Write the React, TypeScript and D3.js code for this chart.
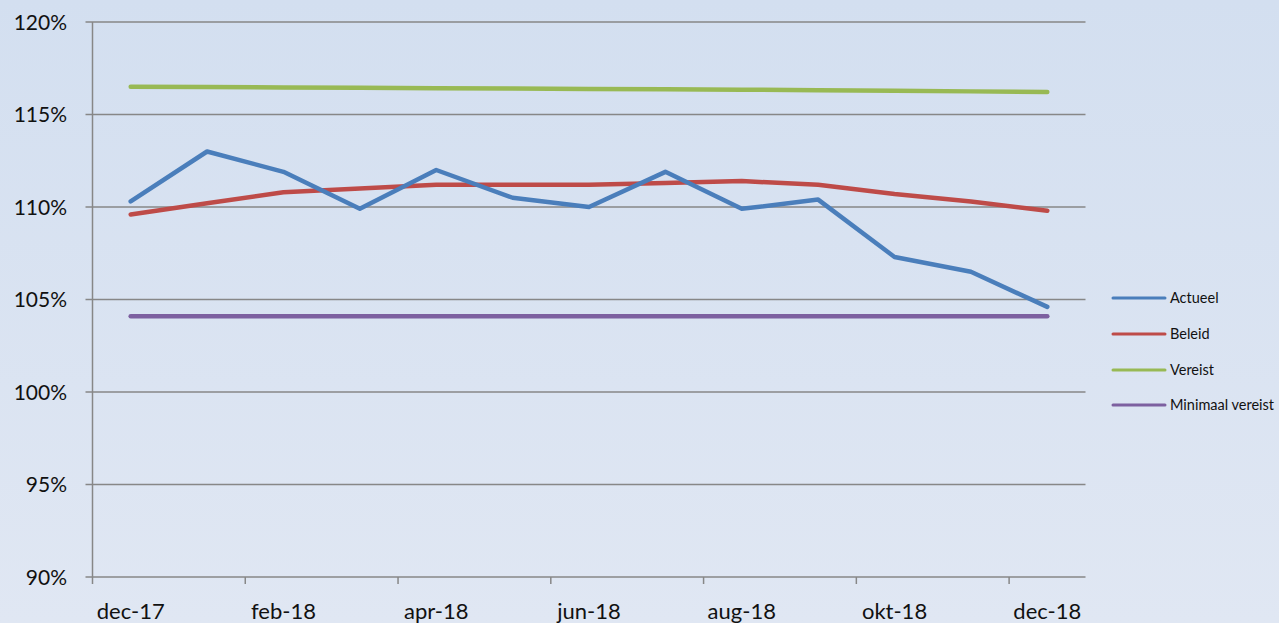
import React, { useEffect, useRef } from 'react';
import * as d3 from 'd3';

const months = ['dec-17', 'jan-18', 'feb-18', 'mrt-18', 'apr-18', 'mei-18', 'jun-18', 'jul-18', 'aug-18', 'sep-18', 'okt-18', 'nov-18', 'dec-18'];
const actueel = [110.3, 113.0, 111.9, 109.9, 112.0, 110.5, 110.0, 111.9, 109.9, 110.4, 107.3, 106.5, 104.6];
const beleid = [109.6, 110.2, 110.8, 111.0, 111.2, 111.2, 111.2, 111.3, 111.4, 111.2, 110.7, 110.3, 109.8];
const vereist = [116.5, 116.48, 116.46, 116.44, 116.42, 116.4, 116.38, 116.36, 116.34, 116.31, 116.28, 116.25, 116.22];
const minimaal = [104.1, 104.1, 104.1, 104.1, 104.1, 104.1, 104.1, 104.1, 104.1, 104.1, 104.1, 104.1, 104.1];
const yTicks = [90, 95, 100, 105, 110, 115, 120];

const series = [
  { name: 'Actueel', values: actueel, color: '#4a7ebb' },
  { name: 'Beleid', values: beleid, color: '#be4b48' },
  { name: 'Vereist', values: vereist, color: '#98b954' },
  { name: 'Minimaal vereist', values: minimaal, color: '#7d60a0' },
];

const W = 1279;
const H = 623;
const FONT = 'Lato, "Open Sans", sans-serif';

function Chart() {
  const ref = useRef<SVGSVGElement>(null);

  useEffect(() => {
    const svg = d3.select(ref.current);
    svg.selectAll('*').remove();

    const left = 92.5, right = 1085.5, top = 22, bottom = 577;

    // background gradient
    const grad = svg.append('defs').append('linearGradient')
      .attr('id', 'bg').attr('x1', 0).attr('y1', 0).attr('x2', 0).attr('y2', 1);
    grad.append('stop').attr('offset', '0%').attr('stop-color', '#d3dff0');
    grad.append('stop').attr('offset', '100%').attr('stop-color', '#e0e7f3');
    svg.append('rect').attr('width', W).attr('height', H).attr('fill', 'url(#bg)');

    const x = d3.scaleBand().domain(months).range([left, right]);
    const y = d3.scaleLinear().domain([90, 120]).range([bottom, top]);
    const cx = (m: string) => (x(m) as number) + x.bandwidth() / 2;

    // gridlines + y labels
    const g = svg.append('g');
    g.selectAll('line.grid').data(yTicks).enter().append('line')
      .attr('x1', left - 7).attr('x2', right)
      .attr('y1', d => y(d)).attr('y2', d => y(d))
      .attr('stroke', '#878787').attr('stroke-width', 1.5);
    g.selectAll('text.yl').data(yTicks).enter().append('text')
      .attr('x', 67).attr('y', d => y(d) + 7.5)
      .attr('text-anchor', 'end')
      .attr('font-family', FONT)
      .attr('font-size', 21).attr('fill', '#111')
      .text(d => d + '%');

    // axis line
    g.append('line').attr('x1', left).attr('x2', left).attr('y1', top).attr('y2', bottom + 7)
      .attr('stroke', '#878787').attr('stroke-width', 1.5);

    // x ticks at every 2nd category boundary
    const tickIdx = [2, 4, 6, 8, 10, 12];
    g.selectAll('line.xt').data(tickIdx).enter().append('line')
      .attr('x1', d => left + d * x.step()).attr('x2', d => left + d * x.step())
      .attr('y1', bottom).attr('y2', bottom + 7)
      .attr('stroke', '#878787').attr('stroke-width', 1.5);

    g.selectAll('text.xl').data(months.filter((_, i) => i % 2 === 0)).enter().append('text')
      .attr('x', d => cx(d)).attr('y', 619)
      .attr('text-anchor', 'middle')
      .attr('font-family', FONT)
      .attr('font-size', 22).attr('fill', '#111')
      .text(d => d);

    // lines (draw order: minimaal, vereist, beleid, actueel)
    const line = d3.line<number>().x((_, i) => cx(months[i])).y(d => y(d));
    [...series].reverse().forEach(s => {
      svg.append('path').datum(s.values)
        .attr('d', line)
        .attr('fill', 'none')
        .attr('stroke', s.color)
        .attr('stroke-width', 4.5)
        .attr('stroke-linecap', 'round')
        .attr('stroke-linejoin', 'round');
    });

    // legend
    const leg = svg.append('g');
    const legY = [298, 334, 370, 405];
    series.forEach((s, i) => {
      leg.append('line')
        .attr('x1', 1113).attr('x2', 1165)
        .attr('y1', legY[i]).attr('y2', legY[i])
        .attr('stroke', s.color).attr('stroke-width', 3).attr('stroke-linecap', 'round');
      leg.append('text')
        .attr('x', 1170).attr('y', legY[i] + 5)
        .attr('font-family', FONT)
        .attr('font-size', 14.5).attr('fill', '#111')
        .text(s.name);
    });
  }, []);

  return <svg ref={ref} width={W} height={H} style={{ display: 'block' }} />;
}

export default function App() {
  return (
    <div style={{ position: 'fixed', left: 0, top: 0 }}>
      <Chart />
    </div>
  );
}
